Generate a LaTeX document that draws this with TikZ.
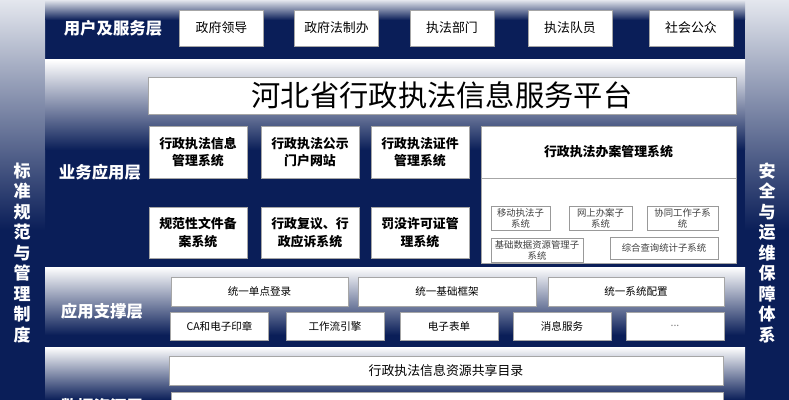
\documentclass[tikz,border=0pt]{standalone}
\usepackage{fontspec}
\setmainfont{Noto Sans CJK SC}
\usetikzlibrary{positioning}
\definecolor{navy}{RGB}{10,30,88}
\definecolor{haze}{RGB}{228,231,238}
\tikzset{
  userbox/.style={draw=gray!70, fill=white, minimum width=2.52cm, minimum height=1.08cm, font=\fontsize{11}{13}\selectfont},
  appbox/.style={draw=gray!70, fill=white, minimum width=2.94cm, align=center, font=\bfseries\fontsize{11}{15}\selectfont},
  subbox/.style={draw=gray!80, fill=white, minimum height=0.72cm, align=center, inner sep=1pt, font=\fontsize{8}{9.5}\selectfont, text=black!75},
  basebox/.style={draw=gray!70, fill=white, minimum height=0.87cm, font=\fontsize{9}{11}\selectfont},
  layerlabel/.style={text=white, font=\bfseries\fontsize{14}{16}\selectfont},
  sidelabel/.style={text=white, align=center, font=\bfseries\fontsize{14.5}{17.5}\selectfont},
}

\begin{document}
\begin{tikzpicture}[x=0.03cm, y=-0.03cm]
            \useasboundingbox (0,0) rectangle (789,400);
            \clip (0,0) rectangle (789,400);

            %Backdrop
            \fill[navy] (0,0) rectangle (789,400);
            \shade[top color=haze, bottom color=navy] (0,0) rectangle (45,230);
            \shade[top color=haze, bottom color=navy] (745,0) rectangle (789,230);
            \shade[top color=haze, bottom color=navy] (45,0) rectangle (745,20);
            \shade[top color=white, bottom color=navy] (45,60) rectangle (745,150);
            \shade[top color=white, bottom color=navy] (45,267) rectangle (745,335);
            \shade[top color=white, bottom color=navy] (45,347) rectangle (745,400);

            %Side columns
            \node[sidelabel] (norms) at (22,253) {标\\准\\规\\范\\与\\管\\理\\制\\度};
            \node[sidelabel] (safety) at (767,253) {安\\全\\与\\运\\维\\保\\障\\体\\系};

            %User layer
            \node[layerlabel] (userlayer) at (113,28) {用户及服务层};
            \node[userbox] (leader) at (221.5,28) {政府领导};
            \node[userbox] (legal) at (336.5,28) {政府法制办};
            \node[userbox] (dept) at (452,28) {执法部门};
            \node[userbox] (staff) at (570,28) {执法队员};
            \node[userbox] (public) at (691,28) {社会公众};

            %Platform
            \node[draw=gray!70, fill=white, minimum width=17.64cm, minimum height=1.11cm, font=\fontsize{25}{28}\selectfont] (platform) at (442,95.5) {河北省行政执法信息服务平台};

            %Business layer
            \node[layerlabel] (bizlayer) at (100,172) {业务应用层};
            \node[appbox, minimum height=1.56cm] (infosys) at (198,152) {行政执法信息\\管理系统};
            \node[appbox, minimum height=1.56cm] (portal) at (310,152) {行政执法公示\\门户网站};
            \node[appbox, minimum height=1.56cm] (license) at (420,152) {行政执法证件\\管理系统};
            \node[appbox, minimum height=1.53cm] (filing) at (198,232.5) {规范性文件备\\案系统};
            \node[appbox, minimum height=1.53cm] (review) at (310,232.5) {行政复议、行\\政应诉系统};
            \node[appbox, minimum height=1.53cm] (permit) at (420,232.5) {罚没许可证管\\理系统};

            \node[draw=gray!70, fill=white, minimum width=7.65cm, minimum height=4.11cm] (casebox) at (608.5,194.5) {};
            \coordinate (divider) at (608.5,178);
            \draw[gray!70] (casebox.west |- divider) -- (casebox.east |- divider);
            \node[font=\bfseries\fontsize{11}{13}\selectfont] (casetitle) at (608.5,152) {行政执法办案管理系统};
            \node[subbox, minimum width=1.77cm] (mobile) at (520.5,218) {移动执法子\\系统};
            \node[subbox, minimum width=1.89cm] (online) at (600.5,218) {网上办案子\\系统};
            \node[subbox, minimum width=2.13cm] (coop) at (682.5,218) {协同工作子系\\统};
            \node[subbox, minimum width=2.76cm] (basedata) at (537,250) {基础数据资源管理子\\系统};
            \node[subbox, minimum width=3.24cm, minimum height=0.66cm] (query) at (664,248) {综合查询统计子系统};

            %Support layer
            \node[layerlabel] (supportlayer) at (102,311) {应用支撑层};
            \node[basebox, minimum width=5.31cm] (sso) at (259.5,291.5) {统一单点登录};
            \node[basebox, minimum width=5.34cm] (frame) at (447,291.5) {统一基础框架};
            \node[basebox, minimum width=5.28cm] (config) at (636,291.5) {统一系统配置};
            \node[basebox, minimum width=2.94cm, minimum height=0.84cm] (seal) at (219.5,326) {CA和电子印章};
            \node[basebox, minimum width=2.94cm, minimum height=0.84cm] (flow) at (335,326) {工作流引擎};
            \node[basebox, minimum width=2.94cm, minimum height=0.84cm] (form) at (449,326) {电子表单};
            \node[basebox, minimum width=2.94cm, minimum height=0.84cm] (msg) at (562,326) {消息服务};
            \node[basebox, minimum width=2.94cm, minimum height=0.84cm, text=gray] (more) at (675,326) {...};

            %Data layer
            \node[layerlabel] (datalayer) at (102,406) {数据资源层};
            \node[basebox, minimum width=16.62cm, font=\fontsize{11}{13}\selectfont] (catalog) at (446,370.5) {行政执法信息资源共享目录};
            \node[basebox, minimum width=16.56cm, minimum height=0.9cm] (datanext) at (447,407) {};
        \end{tikzpicture}
\end{document}
